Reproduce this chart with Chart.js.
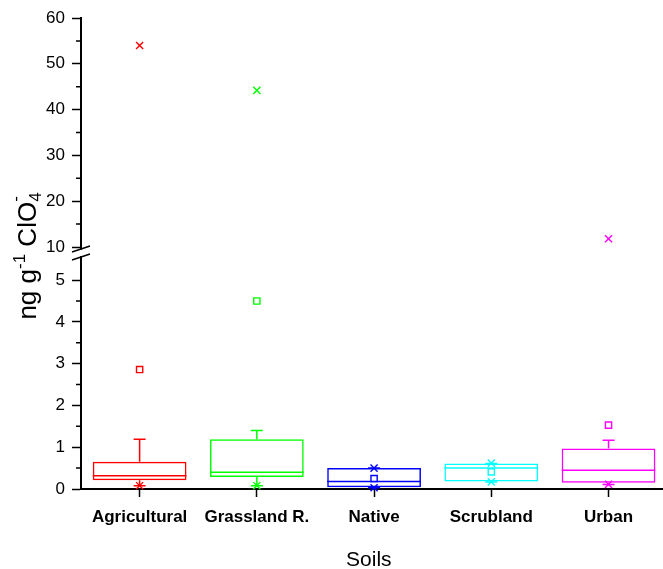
<!DOCTYPE html>
<html>
<head>
<meta charset="utf-8">
<script src="https://cdn.jsdelivr.net/npm/chart.js@4.4.1/dist/chart.umd.min.js"></script>
<style>
  body { margin: 0; background: #fff; }
  canvas { display: block; }
</style>
</head>
<body>
<canvas id="myChart" width="663" height="569"></canvas>
<script>
var categories = ['Agricultural', 'Grassland R.', 'Native', 'Scrubland', 'Urban'];
var colors = ['#FF0000', '#00FF00', '#0000FF', '#00FFFF', '#FF00FF'];

// box statistics per soil type, ng/g
var q1 = [0.21, 0.29, 0.04, 0.18, 0.15];
var median = [0.32, 0.40, 0.18, 0.50, 0.45];
var q3 = [0.65, 1.19, 0.50, 0.61, 0.97];
var whiskerLow = [0.08, 0.08, 0.03, 0.17, 0.11];
var whiskerHigh = [1.19, 1.40, 0.50, 0.61, 1.17];
var mean = [2.86, 4.50, 0.25, 0.41, 1.53];
var p1 = [0.08, 0.08, 0.03, 0.17, 0.11];
var p99 = [54.0, 44.2, 0.50, 0.62, 11.8];

// broken y axis: lower part 0..5, upper part 10..60
var lowerTicks = [0, 1, 2, 3, 4, 5];
var lowerMinor = [0.5, 1.5, 2.5, 3.5, 4.5];
var upperTicks = [10, 20, 30, 40, 50, 60];
var upperMinor = [15, 25, 35, 45, 55];
var lowerMax = 5.65;
var upperMin = 8.69;

function points(arr, keep) {
    var out = [];
    arr.forEach(function(v, i) {
        if (keep(v)) out.push({x: i + 1, y: v});
    });
    return out;
}
function colorOf(ctx) {
    return ctx.raw ? colors[ctx.raw.x - 1] : '#000';
}
var isLow = function(v) { return v <= lowerMax; };
var isHigh = function(v) { return v > lowerMax; };

function markerSet(data, axis, style, radius) {
    return {
        type: 'scatter',
        data: data,
        yAxisID: axis,
        showLine: false,
        clip: false,
        pointStyle: style,
        pointRadius: radius,
        pointHoverRadius: radius,
        pointBorderWidth: 1.4,
        pointBorderColor: colorOf,
        pointBackgroundColor: 'rgba(0,0,0,0)'
    };
}

// medians, whiskers and caps on top of the floating bars
var boxLines = {
    id: 'boxLines',
    afterDatasetsDraw: function(chart) {
        var ctx = chart.ctx;
        var xs = chart.scales.x, ys = chart.scales.yBot;
        var bars = chart.getDatasetMeta(0).data;
        ctx.save();
        ctx.lineWidth = 1.5;
        categories.forEach(function(c, i) {
            var cx = xs.getPixelForValue(i + 1);
            var half = bars[i].width / 2;
            ctx.strokeStyle = colors[i];
            ctx.beginPath();
            var ym = ys.getPixelForValue(median[i]);
            ctx.moveTo(cx - half, ym); ctx.lineTo(cx + half, ym);
            var yq3 = ys.getPixelForValue(q3[i]), yh = ys.getPixelForValue(whiskerHigh[i]);
            var yq1 = ys.getPixelForValue(q1[i]), yl = ys.getPixelForValue(whiskerLow[i]);
            ctx.moveTo(cx, yq3); ctx.lineTo(cx, yh);
            ctx.moveTo(cx - 6, yh); ctx.lineTo(cx + 6, yh);
            ctx.moveTo(cx, yq1); ctx.lineTo(cx, yl);
            ctx.moveTo(cx - 6, yl); ctx.lineTo(cx + 6, yl);
            ctx.stroke();
        });
        ctx.restore();
    }
};

// minor ticks, the axis break and the y title
var axisExtras = {
    id: 'axisExtras',
    afterDraw: function(chart) {
        var ctx = chart.ctx;
        var area = chart.chartArea;
        var left = area.left;
        var top = chart.scales.yTop, bot = chart.scales.yBot;
        ctx.save();
        ctx.strokeStyle = '#000';

        // x axis line runs on to the edge
        ctx.lineWidth = 2;
        ctx.beginPath();
        ctx.moveTo(area.right - 1, area.bottom); ctx.lineTo(chart.width, area.bottom);
        ctx.stroke();

        ctx.lineWidth = 1.5;
        ctx.beginPath();
        upperMinor.forEach(function(v) {
            var y = top.getPixelForValue(v);
            ctx.moveTo(left - 5, y); ctx.lineTo(left, y);
        });
        lowerMinor.forEach(function(v) {
            var y = bot.getPixelForValue(v);
            ctx.moveTo(left - 5, y); ctx.lineTo(left, y);
        });
        ctx.stroke();

        // break symbol
        var yb = bot.top;
        ctx.fillStyle = '#fff';
        ctx.fillRect(left - 2, yb - 3, 4, 6);
        ctx.beginPath();
        ctx.moveTo(left - 9, yb - 1); ctx.lineTo(left + 9, yb - 7);
        ctx.moveTo(left - 9, yb + 7); ctx.lineTo(left + 9, yb + 1);
        ctx.stroke();

        // ng g-1 ClO4-
        var big = '26px "Liberation Sans", Arial, sans-serif';
        var small = '17px "Liberation Sans", Arial, sans-serif';
        ctx.font = big;
        var w1 = ctx.measureText('ng g').width;
        var w3 = ctx.measureText(' ClO').width;
        ctx.font = small;
        var w2 = ctx.measureText('-1').width;
        var w4 = ctx.measureText('4').width;
        var total = w1 + w2 + w3 + w4;
        ctx.translate(36, 256);
        ctx.rotate(-Math.PI / 2);
        ctx.fillStyle = '#000';
        ctx.textBaseline = 'alphabetic';
        ctx.textAlign = 'left';
        var x = -total / 2;
        ctx.font = big;
        ctx.fillText('ng g', x, 0); x += w1;
        ctx.font = small;
        ctx.fillText('-1', x, -11); x += w2;
        ctx.font = big;
        ctx.fillText(' ClO', x, 0); x += w3;
        ctx.font = small;
        ctx.fillText('4', x, 5);
        ctx.fillText('-', x, -15);
        ctx.restore();
    }
};

var tickFont = {family: '"Liberation Sans", Arial, sans-serif', size: 17};

var ctx = document.getElementById('myChart');
var myChart = new Chart(ctx, {
    type: 'bar',
    data: {
        datasets: [
            {
                type: 'bar',
                data: categories.map(function(c, i) { return {x: i + 1, y: [q1[i], q3[i]]}; }),
                yAxisID: 'yBot',
                backgroundColor: 'rgba(0,0,0,0)',
                borderColor: colors,
                borderWidth: 1.5,
                borderSkipped: false,
                barPercentage: 0.8,
                categoryPercentage: 1
            },
            markerSet(points(mean, isLow), 'yBot', 'rect', 4.4),
            markerSet(points(p99, isLow), 'yBot', 'crossRot', 5),
            markerSet(points(p99, isHigh), 'yTop', 'crossRot', 5),
            markerSet(points(p1, isLow), 'yBot', 'crossRot', 5)
        ]
    },
    options: {
        responsive: false,
        animation: false,
        layout: { padding: { top: 18, left: 0, right: 0, bottom: 0 } },
        plugins: {
            legend: { display: false },
            tooltip: { enabled: false }
        },
        scales: {
            x: {
                type: 'linear',
                offset: false,
                min: 0.5,
                max: 5.41,
                afterFit: function(s) { s.height = 80; },
                afterBuildTicks: function(s) {
                    s.ticks = categories.map(function(c, i) { return {value: i + 1}; });
                },
                ticks: {
                    color: '#000',
                    padding: 10,
                    font: {family: '"Liberation Sans", Arial, sans-serif', size: 17, weight: 'bold'},
                    callback: function(v) { return categories[v - 1]; }
                },
                grid: { offset: false, drawOnChartArea: false, tickLength: 8, tickColor: '#000', tickWidth: 1.5 },
                border: { color: '#000', width: 2 },
                title: {
                    display: true,
                    text: 'Soils',
                    color: '#000',
                    padding: { top: 0, bottom: -2 },
                    font: {family: '"Liberation Sans", Arial, sans-serif', size: 21, lineHeight: 1}
                }
            },
            yBot: {
                type: 'linear',
                position: 'left',
                stack: 'ybreak',
                stackWeight: 236,
                min: 0,
                max: lowerMax,
                afterFit: function(s) { s.width = 81; },
                afterBuildTicks: function(s) {
                    s.ticks = lowerTicks.map(function(v) { return {value: v}; });
                },
                ticks: { color: '#000', padding: 7, font: tickFont },
                grid: { drawOnChartArea: false, tickLength: 9, tickColor: '#000', tickWidth: 1.5 },
                border: { color: '#000', width: 2 }
            },
            yTop: {
                type: 'linear',
                position: 'left',
                stack: 'ybreak',
                stackWeight: 235,
                min: upperMin,
                max: 60,
                afterFit: function(s) { s.width = 81; },
                afterBuildTicks: function(s) {
                    s.ticks = upperTicks.map(function(v) { return {value: v}; });
                },
                ticks: { color: '#000', padding: 7, font: tickFont },
                grid: { drawOnChartArea: false, tickLength: 9, tickColor: '#000', tickWidth: 1.5 },
                border: { color: '#000', width: 2 }
            }
        }
    },
    plugins: [boxLines, axisExtras]
});
</script>
</body>
</html>
